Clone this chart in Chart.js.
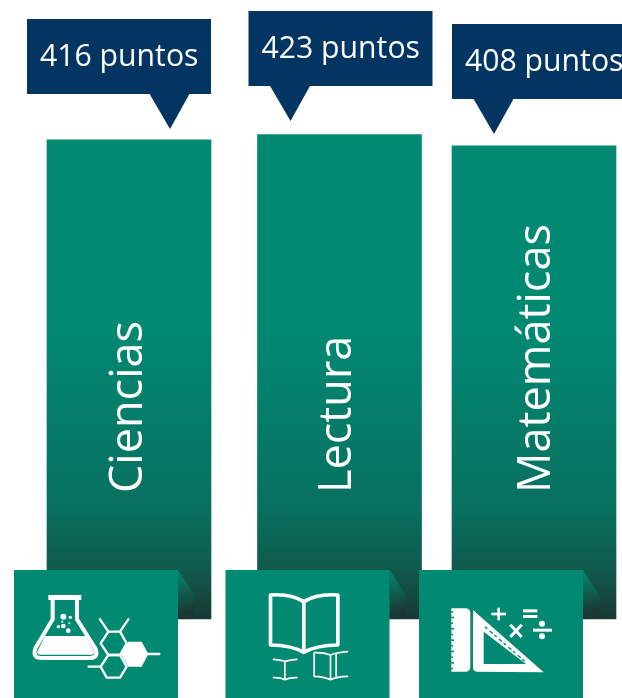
<!DOCTYPE html>
<html><head><meta charset="utf-8">
<style>html,body{margin:0;padding:0;background:#fff;overflow:hidden}canvas{display:block}</style>
<script src="https://cdn.jsdelivr.net/npm/chart.js@4"></script></head>
<body><canvas id="c" width="622" height="698"></canvas>
<script>
const categories = ['Ciencias','Lectura','Matemáticas'];
const scores = [416,423,408];
const unit = 'puntos';
const AXIS_MIN = -214.5, AXIS_MAX = 600;

const TEAL='#018972', DARK='#1a3833', NAVY='#023561';
const barNudge=[0,8,0];
const calloutDX=[-20,-9,0], calloutDY=[-121,-123.5,-122], tipDX=[143,42,42];
const catBaselineDX=[13,11,16];
const boxDX=[-33,-32,-33];
const FONT='"Open Sans"';

function flask(g){
  g.lineWidth=12; g.lineJoin='round'; g.lineCap='round';
  g.fillStyle='#fff'; g.strokeStyle='#fff';
  g.fillRect(145,105,99,15);
  g.beginPath();
  g.moveTo(158,115); g.lineTo(158,178); g.lineTo(106,265);
  g.quadraticCurveTo(96,294,125,294); g.lineTo(268,294);
  g.quadraticCurveTo(298,294,286,265); g.lineTo(231,178); g.lineTo(231,115); g.stroke();
  g.beginPath(); g.moveTo(135,228); g.lineTo(258,228); g.lineTo(282,272);
  g.quadraticCurveTo(286,284,272,284); g.lineTo(122,284); g.quadraticCurveTo(108,284,113,272); g.closePath(); g.fill();
  [[190,170,9],[211,172,5],[190,198,7],[175,200,5],[205,212,7],[208,190,3],[187,185,3]].forEach(c=>{g.beginPath();g.arc(c[0],c[1],c[2],0,7);g.fill();});
  g.lineWidth=7;
  const poly=(p,close)=>{g.beginPath();p.forEach((q,i)=>i?g.lineTo(q[0],q[1]):g.moveTo(q[0],q[1]));if(close)g.closePath();};
  poly([[325,215],[360,215],[380,250],[360,285],[325,285],[302,250]],true); g.stroke();
  poly([[325,285],[360,285],[380,320],[360,353],[320,353],[302,320]],true); g.stroke();
  poly([[385,245],[425,245],[445,282],[425,320],[385,320],[363,282]],true); g.fill();
  [[[325,215],[300,178]],[[360,215],[385,178]],[[445,282],[478,282]],[[302,320],[266,320]]].forEach(l=>{poly(l,false);g.stroke();});
}
function book(g){
  g.strokeStyle='#fff'; g.lineJoin='round'; g.lineCap='round'; g.lineWidth=11;
  g.beginPath(); g.moveTo(165,105); g.lineTo(165,255); g.quadraticCurveTo(225,255,265,277);
  g.quadraticCurveTo(305,255,367,255); g.lineTo(367,105);
  g.quadraticCurveTo(305,100,265,125); g.quadraticCurveTo(225,100,165,105); g.closePath();
  g.moveTo(265,125); g.lineTo(265,277); g.stroke();
  g.lineWidth=5;
  g.beginPath(); g.moveTo(174,298); g.quadraticCurveTo(195,299,208,304); g.quadraticCurveTo(225,299,244,298);
  g.moveTo(208,304); g.lineTo(208,358);
  g.moveTo(174,353); g.quadraticCurveTo(195,352,208,359); g.quadraticCurveTo(225,352,244,353); g.stroke();
  g.beginPath(); g.moveTo(296,278); g.lineTo(296,349); g.quadraticCurveTo(325,350,345,359); g.quadraticCurveTo(365,350,396,349);
  g.moveTo(296,278); g.quadraticCurveTo(325,277,345,285); g.quadraticCurveTo(365,277,396,275);
  g.moveTo(345,285); g.lineTo(345,359); g.moveTo(362,280); g.lineTo(362,352); g.stroke();
}
function tools(g){
  g.fillStyle='#fff';
  g.beginPath(); g.moveTo(118,145); g.lineTo(162,145); g.quadraticCurveTo(175,147,175,160); g.lineTo(175,320);
  g.quadraticCurveTo(175,333,162,335); g.lineTo(118,335); g.closePath(); g.fill();
  g.fillStyle=TEAL;
  for(let y=153,k=0;y<330;y+=17,k++){ g.fillRect(118,y,k%2?8:5,5); }
  g.fillStyle='#fff';
  g.beginPath(); g.moveTo(183,150); g.lineTo(395,337); g.lineTo(195,335); g.quadraticCurveTo(183,335,183,322); g.closePath(); g.fill();
  g.fillStyle=TEAL;
  g.beginPath(); g.moveTo(215,215); g.lineTo(342,312); g.lineTo(215,312); g.closePath(); g.fill();
  for(let i=0;i<9;i++){ const x=222+i*14, y=203+i*12.2;
    g.save(); g.translate(x,y); g.rotate(Math.atan2(97,127)+Math.PI/2); g.fillRect(-2,-(i%2?8:5),4,i%2?12:9); g.restore(); }
  g.fillStyle='#fff'; g.strokeStyle='#fff';
  g.fillRect(238,158,44,8); g.fillRect(256,143,8,38);
  g.lineWidth=9; g.beginPath(); g.moveTo(295,194); g.lineTo(329,231); g.moveTo(329,194); g.lineTo(295,231); g.stroke();
  g.fillRect(333,148,43,9); g.fillRect(333,165,43,9);
  g.fillRect(363,206,57,9);
  g.beginPath(); g.arc(390,191,9,0,7); g.moveTo(399,229); g.arc(390,229,9,0,7); g.fill();
}
const icons=[[flask,14],[book,10],[tools,7]];

const decorate={
  id:'decorate',
  afterDatasetsUpdate(chart){
    chart.getDatasetMeta(0).data.forEach((el,i)=>{el.x+=barNudge[i];});
  },
  afterDatasetsDraw(chart){
    const g=chart.ctx, els=chart.getDatasetMeta(0).data;
    els.forEach((el,i)=>{
      const left=el.x-el.width/2, top=el.y, base=el.base;
      g.save();
      g.translate(el.x+catBaselineDX[i],base-126);
      g.rotate(-Math.PI/2);
      g.fillStyle='#fff'; g.font='400 45px '+FONT; g.textAlign='left'; g.textBaseline='alphabetic';
      g.fillText(categories[i],0,0);
      g.restore();
      const cx=left+calloutDX[i], cy=Math.round(top+calloutDY[i]), tx=cx+tipDX[i];
      g.fillStyle=NAVY;
      g.fillRect(cx,cy,184,75);
      g.beginPath(); g.moveTo(tx-21,cy+74); g.lineTo(tx+20,cy+74); g.lineTo(tx,cy+110); g.closePath(); g.fill();
      g.fillStyle='#fff'; g.font='30.2px '+FONT; g.textAlign='left'; g.textBaseline='alphabetic';
      g.fillText(scores[i]+' '+unit,cx+13,cy+47);
      const bx=left+boxDX[i], by=base-49;
      const fold=g.createLinearGradient(bx+164,by,bx+172,by+42);
      fold.addColorStop(0,TEAL); fold.addColorStop(1,DARK);
      g.fillStyle=fold;
      g.beginPath(); g.moveTo(bx+164,by); g.lineTo(bx+181,by+26); g.lineTo(bx+181,by+49); g.lineTo(bx+164,by+49); g.closePath(); g.fill();
      g.fillStyle=TEAL; g.fillRect(bx,by,164,128);
      g.save();
      g.translate(bx-icons[i][1],by-10); g.scale(1/3,1/3);
      icons[i][0](g);
      g.restore();
    });
  }
};

new Chart(document.getElementById('c'),{
  type:'bar',
  data:{labels:categories,datasets:[{
    data:scores,
    base:AXIS_MIN,
    clip:false,
    barThickness:164,
    borderWidth:0,
    backgroundColor(ctx){
      const ch=ctx.chart;
      if(!ch.chartArea) return TEAL;
      const t=ch.chartArea.top,b=ch.chartArea.bottom;
      const gr=ch.ctx.createLinearGradient(0,t,0,b);
      gr.addColorStop(0,TEAL); gr.addColorStop(0.53,TEAL);
      gr.addColorStop(0.82,'#08705f'); gr.addColorStop(0.92,'#0f5a4d'); gr.addColorStop(1,DARK);
      return gr;
    }
  }]},
  options:{
    responsive:false,animation:false,devicePixelRatio:1,
    layout:{padding:{left:129,right:88,top:0,bottom:79}},
    plugins:{legend:{display:false},tooltip:{enabled:false},title:{display:false}},
    scales:{
      x:{display:false,offset:false,grid:{display:false}},
      y:{display:false,min:AXIS_MIN,max:AXIS_MAX,grid:{display:false}}
    }
  },
  plugins:[decorate]
});
</script></body></html>
